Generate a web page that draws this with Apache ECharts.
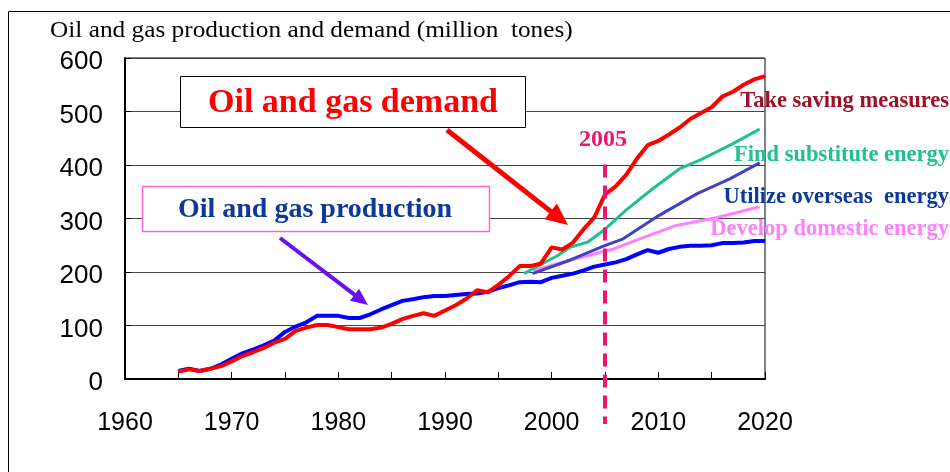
<!DOCTYPE html>
<html><head><meta charset="utf-8">
<script src="https://cdn.jsdelivr.net/npm/echarts@6/dist/echarts.min.js"></script>
<style>html,body{margin:0;padding:0;background:#fff}#c{width:950px;height:472px}</style>
</head><body><div id="c"></div>
<script>
// ---- data ----
const titleText = 'Oil and gas production and demand (million  tones)';
const xTicks = [1960, 1970, 1980, 1990, 2000, 2010, 2020];
const yTicks = [0, 100, 200, 300, 400, 500, 600];

const histYears = [1965,1966,1967,1968,1969,1970,1971,1972,1973,1974,1975,1976,1977,1978,1979,1980,1981,1982,1983,1984,1985,1986,1987,1988,1989,1990,1991,1992,1993,1994,1995,1996,1997,1998,1999,2000,2001,2002,2003,2004,2005,2006,2007,2008,2009,2010,2011,2012,2013,2014,2015,2016,2017,2018,2019,2020];
const production = [15,19,15,19,27,38,48,55,63,72,88,98,106,118,118,118,114,114,121,130,138,146,149,153,155,155,157,159,160,163,170,175,181,182,181,189,193,197,203,210,214,218,224,233,241,236,243,247,249,249,250,254,254,255,258,258];
const demand = [14,18,15,19,24,33,43,50,58,68,75,90,96,101,101,97,93,93,93,96,103,112,118,123,118,128,138,150,166,162,176,192,211,211,216,246,242,255,280,302,345,360,382,412,437,445,457,470,486,497,508,528,537,550,560,566];

const savingYears = [1997.4,1999,2000.5,2001.7,2003.4,2005,2007,2009.5,2012,2014,2017,2019.5];
const savingVals  = [197,214,230,246,256,280,316,356,393,410,440,467];
const overseasYears = [1998.2,2001.7,2004.8,2006.7,2010,2013.6,2016.7,2019.5];
const overseasVals  = [197,222,248,262,305,346,374,404];
const domesticYears = [1998.3,2001.7,2005.8,2008,2011.7,2015.5,2019.5];
const domesticVals  = [203,222,243,260,287,302,322];

const scenarioLabels = ['Take saving measures','Find substitute energy','Utilize overseas  energy','Develop domestic energy'];
const markYear = 2005;

function pairs(xs, ys){ return xs.map((x,i)=>[x, ys[i]]); }

const chart = echarts.init(document.getElementById('c'));
const serif = '"Liberation Serif","Times New Roman",serif';
const sans = '"Liberation Sans",Arial,sans-serif';

function arrow(x1,y1,x2,y2,color,w,hl,hw){
  const dx=x2-x1, dy=y2-y1, L=Math.hypot(dx,dy), ux=dx/L, uy=dy/L;
  const bx=x2-ux*hl, by=y2-uy*hl, px=-uy, py=ux;
  return [
    {type:'line', shape:{x1:x1,y1:y1,x2:bx+ux*2,y2:by+uy*2}, style:{stroke:color,lineWidth:w}, z:50},
    {type:'polygon', shape:{points:[[x2,y2],[bx+px*hw/2,by+py*hw/2],[bx-px*hw/2,by-py*hw/2]]}, style:{fill:color}, z:50}
  ];
}

const lineS = (name,data,color,w)=>({name,type:'line',data,showSymbol:false,symbol:'none',
  lineStyle:{color,width:w}, itemStyle:{color}, z:3, clip:false, animation:false});

chart.setOption({
  animation:false,
  grid:{left:125, top:58, width:640, height:321, show:true, borderColor:'#000', borderWidth:1, containLabel:false},
  xAxis:{type:'value', min:1960, max:2020, interval:5,
    axisLine:{lineStyle:{color:'#000', width:2}},
    axisTick:{inside:true, length:7, lineStyle:{color:'#000', width:1}},
    axisLabel:{margin:32, fontFamily:sans, fontSize:25, color:'#000',
      formatter:v=> xTicks.includes(v) ? String(v) : ''},
    splitLine:{show:false}},
  yAxis:{type:'value', min:0, max:600, interval:100,
    axisLine:{show:true, lineStyle:{color:'#000', width:2}},
    axisTick:{show:true, inside:true, length:6, lineStyle:{color:'#000'}},
    axisLabel:{margin:22, fontFamily:sans, fontSize:26, color:'#000', lineHeight:34, verticalAlign:'top', padding:[-13,0,0,0],
      formatter:v=> yTicks.includes(v) ? String(v) : ''},
    splitLine:{show:true, lineStyle:{color:'#444', width:1}}},
  series:[
    lineS('Develop domestic energy', pairs(domesticYears, domesticVals), '#FF80FF', 3),
    lineS('Utilize overseas energy', pairs(overseasYears, overseasVals), '#4040C8', 3),
    lineS('Find substitute energy', pairs(savingYears, savingVals), '#20C090', 3),
    lineS('Oil and gas production', pairs(histYears, production), '#0000FF', 4),
    lineS('Oil and gas demand', pairs(histYears, demand), '#FF0000', 4)
  ]
});

const mx = chart.convertToPixel({xAxisIndex:0}, markYear);
const yTop = chart.convertToPixel({yAxisIndex:0}, 401);

chart.setOption({graphic:[
  {type:'rect', shape:{x:8.5,y:11.5,width:1000,height:500}, style:{fill:'none',stroke:'#000',lineWidth:1}, z:-10, silent:true},
  {type:'text', x:50, y:31, scaleX:1.1, originX:0, originY:0, style:{text:titleText, font:'23px '+serif, fill:'#000', verticalAlign:'middle'}},
  {type:'line', shape:{x1:mx,y1:yTop,x2:mx,y2:424}, style:{stroke:'#F0146E', lineWidth:4, lineDash:[13,8]}, z:40},
  {type:'text', x:mx-2, y:140, style:{text:String(markYear), font:'bold 24px '+serif, fill:'#F0146E', align:'center', verticalAlign:'middle'}, z:41},
  {type:'rect', shape:{x:180.5,y:76.5,width:345,height:51}, style:{fill:'#fff',stroke:'#000',lineWidth:1}, z:30},
  {type:'text', x:353, y:103, style:{text:'Oil and gas demand', font:'bold 34px '+serif, fill:'#FF0000', align:'center', verticalAlign:'middle'}, z:31},
  {type:'rect', shape:{x:142.5,y:186.5,width:347,height:45}, style:{fill:'#fff',stroke:'#FF66CC',lineWidth:1.5}, z:30},
  {type:'text', x:315, y:210, style:{text:'Oil and gas production', font:'bold 28px '+serif, fill:'#0D3A9A', align:'center', verticalAlign:'middle'}, z:31},
  ...arrow(447,130,568,225,'#FF0000',5,22,20),
  ...arrow(280,238,368,305,'#6A10F0',4,17,15),
  {type:'text', x:949, y:101, style:{text:scenarioLabels[0], font:'bold 22.5px '+serif, fill:'#A0102A', align:'right', verticalAlign:'middle'}, z:45},
  {type:'text', x:949, y:155, style:{text:scenarioLabels[1], font:'bold 22.5px '+serif, fill:'#20C090', align:'right', verticalAlign:'middle'}, z:45},
  {type:'text', x:949, y:197, style:{text:scenarioLabels[2], font:'bold 22.5px '+serif, fill:'#0D3A9A', align:'right', verticalAlign:'middle'}, z:45},
  {type:'text', x:949, y:229, style:{text:scenarioLabels[3], font:'bold 22.5px '+serif, fill:'#FF80FF', align:'right', verticalAlign:'middle'}, z:45}
]});
</script>
</body></html>
